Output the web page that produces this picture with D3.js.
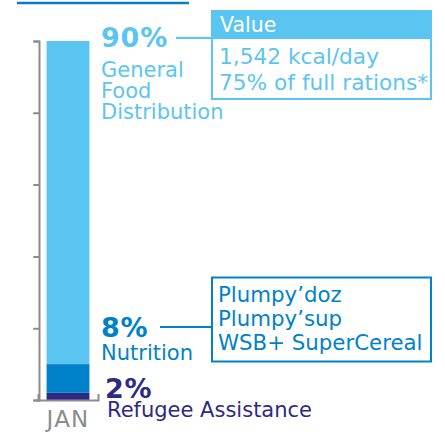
<!DOCTYPE html>
<html>
<head>
<meta charset="utf-8">
<script src="https://cdn.jsdelivr.net/npm/d3@7"></script>
<style>
  body { margin: 0; background: #fff; }
  text { font-family: "DejaVu Sans", Verdana, sans-serif; }
</style>
</head>
<body>
<div id="vis_ration"></div>
<script>
// data
const months = ["JAN"];
const segments = ["Refugee Assistance", "Nutrition", "General Food Distribution"];
const shares = [2, 8, 90];
const yTicks = [0, 20, 40, 60, 80, 100];
const gfdLines = ["General", "Food", "Distribution"];
const gfdDetails = ["1,542 kcal/day", "75% of full rations*"];
const nutritionProducts = ["Plumpy\u2019doz", "Plumpy\u2019sup", "WSB+ SuperCereal"];

const colors = { "Refugee Assistance": "#2e2a84", "Nutrition": "#0082ca", "General Food Distribution": "#5bc5f2" };
const axisGray = "#8c8c8c";

const SVG = d3.select("#vis_ration").append("svg").attr("width", 445).attr("height", 440);

// thin rule at the top
SVG.append("line").attr("x1", 17).attr("x2", 189).attr("y1", 3).attr("y2", 3)
  .attr("stroke", "#0a7cc6").attr("stroke-width", 2.5);

const row = { month: months[0] };
segments.forEach((s, i) => row[s] = shares[i]);
const stacked = d3.stack().keys(segments)([row]);

const y = d3.scaleLinear().domain([0, 100]).range([400, 41]);
const x = d3.scaleBand().domain(months).range([38, 98]).paddingInner(0).paddingOuter(0.2);

// bars
SVG.selectAll("rect.seg")
  .data(stacked)
  .enter()
  .append("rect")
    .attr("class", "seg")
    .attr("x", x(months[0]))
    .attr("width", x.bandwidth())
    .attr("y", d => y(d[0][1]))
    .attr("height", d => y(d[0][0]) - y(d[0][1]))
    .attr("fill", d => colors[d.key]);

// y axis
const yAxis = SVG.append("g").attr("transform", "translate(39,0)")
  .call(d3.axisLeft(y).tickValues(yTicks).tickSize(5).tickFormat(""));
yAxis.selectAll("path, line").attr("stroke", axisGray).attr("stroke-width", 2).attr("stroke-linecap", "round");

// x axis
const xAxis = SVG.append("g").attr("transform", "translate(0,400)")
  .call(d3.axisBottom(x).tickSizeInner(0).tickSizeOuter(-6).tickPadding(6));
xAxis.select(".domain").attr("stroke", axisGray).attr("stroke-width", 2).attr("fill", "none");
xAxis.selectAll("text").attr("fill", axisGray).attr("font-size", 23).attr("letter-spacing", 1.2)
  .attr("font-family", "DejaVu Sans, Verdana, sans-serif").attr("dy", "0.92em");

// General Food Distribution annotation
const gTop = y(100);
SVG.append("text").attr("x", 101).attr("y", gTop + 6).text(shares[2] + "%")
  .attr("font-size", 27).attr("letter-spacing", 0.8).attr("font-weight", "bold")
  .attr("fill", colors["General Food Distribution"]);
SVG.append("line").attr("x1", 176).attr("x2", 212).attr("y1", gTop - 3).attr("y2", gTop - 3)
  .attr("stroke", colors["General Food Distribution"]).attr("stroke-width", 2);
const gfdLabel = SVG.append("text").attr("x", 101).attr("y", 77)
  .attr("font-size", 21).attr("fill", colors["General Food Distribution"]);
gfdLines.forEach((w, i) => {
  gfdLabel.append("tspan").attr("x", 101).attr("dy", i === 0 ? 0 : 21).text(w);
});

// value box
SVG.append("rect").attr("x", 212).attr("y", 11).attr("width", 219).attr("height", 88)
  .attr("fill", "#fff").attr("stroke", colors["General Food Distribution"]).attr("stroke-width", 2);
SVG.append("rect").attr("x", 211).attr("y", 10).attr("width", 221).attr("height", 29)
  .attr("fill", colors["General Food Distribution"]);
SVG.append("text").attr("x", 220).attr("y", 32).text("Value")
  .attr("font-size", 20.5).attr("fill", "#fff");
SVG.selectAll("text.gfd")
  .data(gfdDetails)
  .enter()
  .append("text")
    .attr("class", "gfd")
    .attr("x", 219)
    .attr("y", (d, i) => 64 + i * 26)
    .attr("font-size", 21.7)
    .attr("fill", colors["General Food Distribution"])
    .text(d => d);

// Nutrition annotation
const nTop = y(shares[0] + shares[1]);
SVG.append("text").attr("x", 101).attr("y", nTop - 27).text(shares[1] + "%")
  .attr("font-size", 27).attr("letter-spacing", 0.8).attr("font-weight", "bold")
  .attr("fill", colors["Nutrition"]);
SVG.append("line").attr("x1", 160).attr("x2", 212).attr("y1", nTop - 37).attr("y2", nTop - 37)
  .attr("stroke", colors["Nutrition"]).attr("stroke-width", 2);
SVG.append("text").attr("x", 101).attr("y", nTop - 4).text(segments[1])
  .attr("font-size", 21).attr("fill", colors["Nutrition"]);
SVG.append("rect").attr("x", 212).attr("y", 277.5).attr("width", 219).attr("height", 84)
  .attr("fill", "none").attr("stroke", colors["Nutrition"]).attr("stroke-width", 2);
SVG.selectAll("text.nut")
  .data(nutritionProducts)
  .enter()
  .append("text")
    .attr("class", "nut")
    .attr("x", 218)
    .attr("y", (d, i) => 302 + i * 24)
    .attr("font-size", 21.3)
    .attr("fill", colors["Nutrition"])
    .text(d => d);

// Refugee Assistance annotation
SVG.append("text").attr("x", 105).attr("y", y(0) - 2).text(shares[0] + "%")
  .attr("font-size", 27).attr("letter-spacing", 0.8).attr("font-weight", "bold")
  .attr("fill", colors["Refugee Assistance"]);
SVG.append("text").attr("x", 107).attr("y", y(0) + 17).text(segments[0])
  .attr("font-size", 21).attr("fill", colors["Refugee Assistance"]);
</script>
</body>
</html>
